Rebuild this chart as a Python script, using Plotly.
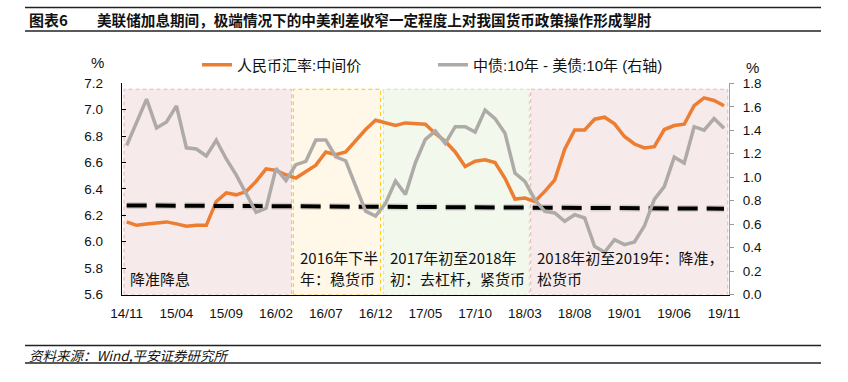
import plotly.graph_objects as go

# ---------------- data ----------------
months = [
    "14/11", "14/12",
    "15/01", "15/02", "15/03", "15/04", "15/05", "15/06", "15/07", "15/08", "15/09", "15/10", "15/11", "15/12",
    "16/01", "16/02", "16/03", "16/04", "16/05", "16/06", "16/07", "16/08", "16/09", "16/10", "16/11", "16/12",
    "17/01", "17/02", "17/03", "17/04", "17/05", "17/06", "17/07", "17/08", "17/09", "17/10", "17/11", "17/12",
    "18/01", "18/02", "18/03", "18/04", "18/05", "18/06", "18/07", "18/08", "18/09", "18/10", "18/11", "18/12",
    "19/01", "19/02", "19/03", "19/04", "19/05", "19/06", "19/07", "19/08", "19/09", "19/10", "19/11",
]

cny_mid = [
    6.150, 6.124, 6.134, 6.140, 6.150, 6.135, 6.117, 6.124, 6.124, 6.305,
    6.370, 6.355, 6.380, 6.457, 6.552, 6.540, 6.507, 6.482, 6.532, 6.580,
    6.680, 6.660, 6.680, 6.770, 6.850, 6.920, 6.900, 6.880, 6.900, 6.895,
    6.890, 6.820, 6.760, 6.680, 6.570, 6.610, 6.620, 6.600, 6.480, 6.323,
    6.331, 6.305, 6.381, 6.469, 6.700, 6.847, 6.847, 6.928, 6.943, 6.893,
    6.797, 6.740, 6.710, 6.720, 6.850, 6.880, 6.890, 7.030, 7.090, 7.070,
    7.030,
]

spread_10y = [
    1.270, 1.470, 1.665, 1.420, 1.470, 1.607, 1.250, 1.240, 1.180, 1.315,
    1.155, 1.020, 0.865, 0.700, 0.735, 1.075, 0.972, 1.107, 1.135, 1.317,
    1.317, 1.174, 1.140, 0.920, 0.710, 0.668, 0.776, 0.967, 0.853, 1.123,
    1.322, 1.393, 1.288, 1.430, 1.430, 1.385, 1.572, 1.499, 1.375, 1.035,
    0.964, 0.808, 0.709, 0.695, 0.624, 0.680, 0.652, 0.411, 0.360, 0.468,
    0.425, 0.447, 0.583, 0.810, 0.920, 1.170, 1.120, 1.430, 1.400, 1.500,
    1.416,
]

ref_line = [6.275, 6.25]          # black dashed reference (left axis), first -> last month

tick_labels = ["14/11", "15/04", "15/09", "16/02", "16/07", "16/12", "17/05",
               "17/10", "18/03", "18/08", "19/01", "19/06", "19/11"]
left_ticks = [5.6, 5.8, 6.0, 6.2, 6.4, 6.6, 6.8, 7.0, 7.2]
right_ticks = [0.0, 0.2, 0.4, 0.6, 0.8, 1.0, 1.2, 1.4, 1.6, 1.8]

# policy periods (category index bounds) and labels
period_start = [-0.27, 16.73, 25.77, 40.58]
period_end = [16.57, 25.51, 40.44, 60.37]
period_top = 7.155
period_fill = ["#F6EAEA", "#FFF7E8", "#F3F8EC", "#F6EAEA"]
period_line = ["#E8B6B6", "#FFC000", "#C9E2B6", "#E8B6B6"]
period_text = [
    ["降准降息"],
    ["2016年下半", "年：稳货币"],
    ["2017年初至2018年", "初：去杠杆，紧货币"],
    ["2018年初至2019年：降准，", "松货币"],
]

ORANGE = "#ED7D31"
GRAY = "#AEAAA8"
FONT = "Liberation Sans, Arial, Noto Sans CJK SC, sans-serif"
CJK = "Noto Sans CJK SC, Liberation Sans, sans-serif"

W, H = 848, 382


def px(x):
    return x / W


def py(y):
    return 1 - y / H


fig = go.Figure()

fig.add_trace(go.Scatter(
    x=months, y=cny_mid, name="人民币汇率:中间价", mode="lines",
    line=dict(color=ORANGE, width=3.5), xaxis="x", yaxis="y"))
fig.add_trace(go.Scatter(
    x=months, y=spread_10y, name="中债:10年 - 美债:10年 (右轴)", mode="lines",
    line=dict(color=GRAY, width=3.5), xaxis="x", yaxis="y2"))
fig.add_trace(go.Scatter(
    x=[months[0], months[-1]], y=ref_line, mode="lines", showlegend=False,
    line=dict(color="rgba(0,0,0,0.12)", width=7, dash="20px,9px"), xaxis="x", yaxis="y"))
fig.add_trace(go.Scatter(
    x=[months[0], months[-1]], y=ref_line, mode="lines", showlegend=False,
    line=dict(color="black", width=4, dash="20px,9px"), xaxis="x", yaxis="y"))

shapes = []
annotations = []
for s, e, fc, lc in zip(period_start, period_end, period_fill, period_line):
    shapes.append(dict(type="rect", xref="x", yref="y", x0=s, x1=e, y0=5.6, y1=period_top,
                       fillcolor=fc, line=dict(color=lc, width=1, dash="4px,3px"), layer="below"))

line_y = [5.88, 5.72]
for s, lines in zip(period_start, period_text):
    ys = [5.72] if len(lines) == 1 else line_y
    for t, yy in zip(lines, ys):
        annotations.append(dict(text=t, xref="x", yref="y", x=s + 0.45, y=yy,
                                xanchor="left", yanchor="middle", showarrow=False,
                                font=dict(family=CJK, size=15, color="#111111")))

# header / footer rules
for yy in [7.5, 31, 345.5, 363]:
    shapes.append(dict(type="line", xref="paper", yref="paper", x0=px(25), x1=px(821),
                       y0=py(yy), y1=py(yy), line=dict(color="#222222", width=1.6)))

annotations += [
    dict(text="<b>图表6</b>", xref="paper", yref="paper", x=px(27), y=py(20),
         xanchor="left", yanchor="middle", showarrow=False,
         font=dict(family=CJK, size=15, color="#111111")),
    dict(text="<b>美联储加息期间，极端情况下的中美利差收窄一定程度上对我国货币政策操作形成掣肘</b>",
         xref="paper", yref="paper", x=px(95), y=py(20), xanchor="left", yanchor="middle",
         showarrow=False, font=dict(family=CJK, size=14.6, color="#111111")),
    dict(text="<i>资料来源：Wind,平安证券研究所</i>", xref="paper", yref="paper", x=px(27), y=py(354.5),
         xanchor="left", yanchor="middle", showarrow=False,
         font=dict(family=CJK, size=13.5, color="#111111")),
    dict(text="%", xref="paper", yref="paper", x=px(97.5), y=py(63), xanchor="center",
         yanchor="middle", showarrow=False, font=dict(family=FONT, size=15, color="#111111")),
    dict(text="%", xref="paper", yref="paper", x=px(752), y=py(67), xanchor="center",
         yanchor="middle", showarrow=False, font=dict(family=FONT, size=15, color="#111111")),
]

bounds = [months.index(t) - 0.5 for t in tick_labels[1:]]

fig.update_layout(
    template="none",
    width=W, height=H,
    margin=dict(l=0, r=0, t=0, b=0),
    paper_bgcolor="white", plot_bgcolor="rgba(0,0,0,0)",
    font=dict(family=FONT, size=13.5, color="#111111"),
    hovermode=False,
    showlegend=True,
    legend=dict(orientation="h", x=px(197), y=py(65), xanchor="left", yanchor="middle",
                bgcolor="rgba(0,0,0,0)", font=dict(family=FONT, size=15, color="#111111"),
                entrywidth=191, entrywidthmode="pixels", itemwidth=30),
    xaxis=dict(type="category", categoryorder="array", categoryarray=months,
               domain=[px(121.7), px(729)], range=[-0.5, len(months) - 0.5],
               tickmode="array", tickvals=tick_labels, ticktext=tick_labels,
               ticks="", showgrid=False, zeroline=False, showline=True,
               linecolor="black", linewidth=1, anchor="y",
               ticklabelstandoff=6, tickfont=dict(size=13.5)),
    xaxis2=dict(overlaying="x", anchor="y", domain=[px(121.7), px(729)],
                range=[-0.5, len(months) - 0.5], tickmode="array", tickvals=bounds,
                ticks="inside", ticklen=4, tickcolor="black", showticklabels=False,
                showgrid=False, zeroline=False, showline=False),
    yaxis=dict(domain=[py(294.5), py(83.3)], range=[5.6, 7.2], tickmode="array",
               tickvals=left_ticks, tickformat=".1f", ticks="inside", ticklen=4,
               tickcolor="black", showline=True, linecolor="black", linewidth=1,
               showgrid=False, zeroline=False, ticklabelstandoff=15,
               tickfont=dict(size=13.5), anchor="x"),
    yaxis2=dict(overlaying="y", side="right", anchor="x", range=[0, 1.8], tickmode="array",
                tickvals=right_ticks, tickformat=".1f", ticks="outside", ticklen=4,
                tickcolor="#999999", showline=True, linecolor="#A0A0A0", linewidth=1,
                showgrid=False, zeroline=False, ticklabelstandoff=6,
                tickfont=dict(size=13.5)),
    shapes=shapes,
    annotations=annotations,
)

fig.write_html("out.html", config={"displayModeBar": False},
               post_script="document.body.style.margin='0';document.body.style.overflow='hidden';")
